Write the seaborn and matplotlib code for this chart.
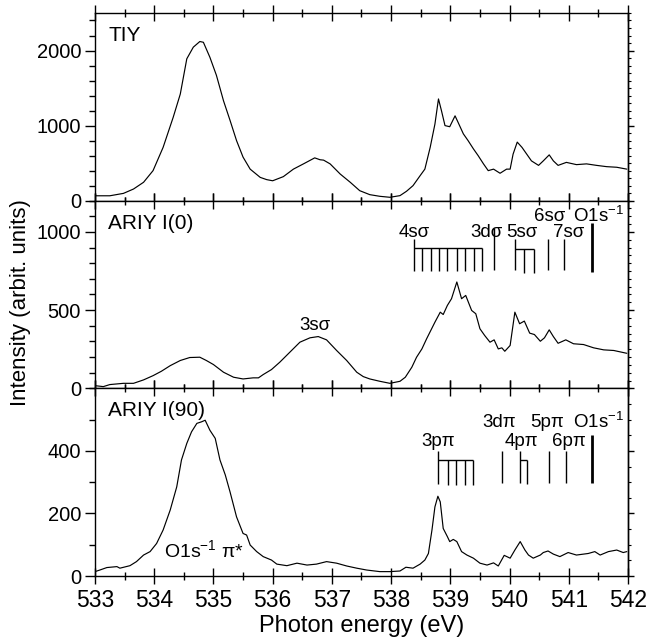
import matplotlib
matplotlib.use('Agg')
import matplotlib.pyplot as plt
from matplotlib.ticker import MultipleLocator, FixedLocator, NullFormatter
import seaborn as sns

# TIY spectrum (photon energy in eV, intensity)
tiy_energy = [533.00, 533.25, 533.48, 533.65, 533.82, 533.98, 534.15, 534.32, 534.44, 534.55,
              534.66, 534.77, 534.83, 534.94, 535.05, 535.17, 535.28, 535.39, 535.50, 535.62,
              535.79, 535.90, 536.00, 536.18, 536.35, 536.52, 536.71, 536.80, 536.86, 536.97,
              537.14, 537.31, 537.47, 537.64, 537.81, 537.98, 538.15, 538.26, 538.37, 538.49,
              538.57, 538.66, 538.74, 538.80, 538.85, 538.91, 538.99, 539.08, 539.13, 539.22,
              539.30, 539.39, 539.47, 539.56, 539.64, 539.73, 539.84, 539.95, 540.01, 540.06,
              540.13, 540.21, 540.29, 540.37, 540.49, 540.57, 540.67, 540.74, 540.82, 540.96,
              541.13, 541.30, 541.47, 541.64, 541.81, 541.98]
tiy_intensity = [65, 65, 97, 155, 245, 400, 710, 1110, 1420, 1890,
                 2045, 2120, 2110, 1910, 1670, 1330, 1070, 800, 580, 420,
                 310, 280, 265, 320, 420, 490, 570, 545, 540, 490,
                 355, 245, 133, 80, 58, 45, 67, 125, 200, 333,
                 420, 710, 1020, 1355, 1200, 1000, 985, 1130, 1045, 890,
                 800, 690, 600, 490, 400, 420, 365, 420, 420, 620,
                 780, 710, 620, 530, 470, 530, 610, 530, 470, 510,
                 480, 490, 470, 453, 445, 420]

# ARIY I(0)
ariy0_energy = [533.00, 533.14, 533.25, 533.48, 533.65, 533.82, 533.98, 534.12, 534.27, 534.44,
                534.60, 534.77, 534.88, 535.00, 535.17, 535.34, 535.50, 535.67, 535.76, 535.84,
                535.98, 536.12, 536.29, 536.46, 536.63, 536.77, 536.91, 537.08, 537.25, 537.42,
                537.53, 537.64, 537.81, 537.98, 538.15, 538.24, 538.35, 538.43, 538.52, 538.60,
                538.67, 538.74, 538.83, 538.88, 538.95, 539.02, 539.11, 539.19, 539.26, 539.36,
                539.43, 539.50, 539.58, 539.67, 539.74, 539.81, 539.87, 539.92, 540.01, 540.09,
                540.17, 540.25, 540.34, 540.42, 540.52, 540.59, 540.67, 540.74, 540.82, 540.95,
                541.08, 541.25, 541.42, 541.59, 541.76, 541.98]
ariy0_intensity = [17, 11, 24, 32, 32, 54, 81, 109, 145, 178,
                   197, 199, 178, 152, 103, 71, 60, 67, 67, 88,
                   120, 167, 231, 295, 323, 331, 310, 242, 178, 103,
                   75, 60, 45, 32, 45, 71, 135, 199, 252, 317,
                   370, 423, 487, 472, 530, 573, 680, 573, 594, 498,
                   477, 381, 338, 295, 310, 252, 259, 237, 274, 487,
                   413, 430, 353, 344, 301, 323, 374, 331, 288, 310,
                   285, 280, 259, 246, 242, 224]

# ARIY I(90)
ariy90_energy = [533.00, 533.08, 533.20, 533.37, 533.42, 533.59, 533.70, 533.82, 533.93, 534.04,
                 534.15, 534.27, 534.38, 534.46, 534.55, 534.63, 534.72, 534.80, 534.86, 534.94,
                 535.03, 535.11, 535.20, 535.28, 535.39, 535.50, 535.56, 535.62, 535.73, 535.84,
                 535.98, 536.07, 536.24, 536.41, 536.58, 536.74, 536.91, 537.08, 537.25, 537.42,
                 537.59, 537.81, 537.98, 538.15, 538.25, 538.37, 538.49, 538.57, 538.63, 538.69,
                 538.74, 538.79, 538.83, 538.88, 538.95, 538.99, 539.05, 539.11, 539.19, 539.28,
                 539.39, 539.50, 539.62, 539.73, 539.81, 539.91, 540.01, 540.09, 540.18, 540.26,
                 540.32, 540.40, 540.52, 540.57, 540.65, 540.74, 540.85, 540.99, 541.13, 541.33,
                 541.44, 541.53, 541.67, 541.81, 541.92, 541.98]
ariy90_intensity = [14, 19, 27, 30, 25, 33, 46, 67, 78, 104,
                    147, 211, 285, 371, 424, 461, 488, 493, 498, 466,
                    440, 371, 323, 269, 189, 136, 131, 99, 78, 62,
                    51, 38, 33, 41, 35, 38, 46, 41, 32, 25,
                    19, 14, 14, 16, 28, 25, 38, 51, 72, 147,
                    221, 255, 237, 152, 126, 110, 117, 110, 78, 67,
                    57, 41, 35, 42, 32, 66, 57, 83, 110, 83,
                    67, 57, 67, 75, 80, 70, 62, 75, 67, 72,
                    78, 67, 78, 83, 75, 78]

# Rydberg series markers (eV)
s4_sigma = [538.38, 538.53, 538.67, 538.81, 538.95, 539.11, 539.25, 539.40, 539.54]
d3_sigma = [539.73]
s5_sigma = [540.09, 540.25, 540.41]
s6_sigma = [540.65]
s7_sigma = [540.92]
ion_edge = [541.40]
p3_pi = [538.79, 538.96, 539.10, 539.25, 539.39]
d3_pi = [539.88]
p4_pi = [540.17, 540.30]
p5_pi = [540.66]
p6_pi = [540.95]

sns.set_style('ticks')
plt.rcParams['font.family'] = ['Liberation Sans', 'DejaVu Sans']
plt.rcParams['mathtext.fontset'] = 'custom'
plt.rcParams['mathtext.rm'] = 'Liberation Sans'
plt.rcParams['mathtext.default'] = 'regular'
plt.rcParams['axes.linewidth'] = 1.0
for key in ['text.color', 'axes.labelcolor', 'axes.edgecolor', 'xtick.color', 'ytick.color']:
    plt.rcParams[key] = 'black'

fig, axes = plt.subplots(3, 1, sharex=True, figsize=(6.49, 6.40), dpi=100,
                         gridspec_kw=dict(hspace=0))
fig.subplots_adjust(left=0.1464, right=0.9676, top=0.9797, bottom=0.10)

panels = [
    (tiy_energy, tiy_intensity, 'TIY', 2500, [0, 1000, 2000], 200),
    (ariy0_energy, ariy0_intensity, 'ARIY I(0)', 1200, [0, 500, 1000], 100),
    (ariy90_energy, ariy90_intensity, 'ARIY I(90)', 600, [0, 200, 400], 100),
]

for ax, (x, y, name, ytop, majors, minor) in zip(axes, panels):
    sns.lineplot(x=x, y=y, ax=ax, color='black', linewidth=0.85, sort=False)
    ax.set_xlim(533, 542)
    ax.set_ylim(0, ytop)
    ax.yaxis.set_major_locator(FixedLocator(majors))
    ax.yaxis.set_minor_locator(MultipleLocator(minor))
    ax.xaxis.set_major_locator(MultipleLocator(1))
    ax.xaxis.set_minor_locator(MultipleLocator(0.5))
    ax.tick_params(axis='x', which='both', direction='inout', top=True, bottom=True)
    ax.tick_params(axis='x', which='major', length=12, width=1.0, labelsize=16.5)
    ax.tick_params(axis='x', which='minor', length=6, width=1.0)
    ax.tick_params(axis='y', which='both', direction='out', left=True, right=False)
    ax.tick_params(axis='y', which='major', length=7, width=1.0, labelsize=14.5, pad=3)
    ax.tick_params(axis='y', which='minor', length=4, width=1.0)
    # short outward ticks on the right edge
    sec = ax.secondary_yaxis('right')
    sec.yaxis.set_major_locator(FixedLocator(majors))
    sec.yaxis.set_minor_locator(MultipleLocator(minor / 2))
    sec.yaxis.set_major_formatter(NullFormatter())
    sec.tick_params(which='major', direction='out', length=4, width=1.0)
    sec.tick_params(which='minor', direction='out', length=2.5, width=0.8)
    ax.set_xlabel('')
    ax.set_ylabel('')
    ax.text(0.025, 0.93, name, transform=ax.transAxes, ha='left', va='top', fontsize=15)


def series(ax, xs, top, bottom, join=None, sub_bottom=None, lw=1.0):
    ax.vlines(xs[0], bottom, top, color='black', lw=lw)
    if len(xs) > 1:
        ax.hlines(join, xs[0], xs[-1], color='black', lw=lw)
        ax.vlines(xs[1:], sub_bottom, join, color='black', lw=lw)


ax2 = axes[1]
series(ax2, s4_sigma, 958, 750, join=900, sub_bottom=750)
series(ax2, d3_sigma, 1022, 759)
series(ax2, s5_sigma, 958, 759, join=893, sub_bottom=737)
series(ax2, s6_sigma, 958, 759)
series(ax2, s7_sigma, 958, 759)
series(ax2, ion_edge, 1054, 744, lw=2.0)
ann = dict(ha='center', va='baseline', fontsize=13.5)
ax2.text(538.39, 968, '4sσ', **ann)
ax2.text(539.61, 968, '3dσ', **ann)
ax2.text(540.21, 968, '5sσ', **ann)
ax2.text(540.67, 1068, '6sσ', **ann)
ax2.text(540.99, 968, '7sσ', **ann)
ax2.text(541.50, 1064, 'O1s$^{-1}$', **ann)
ax2.text(536.71, 374, '3sσ', **ann)

ax3 = axes[2]
series(ax3, p3_pi, 399, 294, join=371, sub_bottom=291)
series(ax3, d3_pi, 399, 298)
series(ax3, p4_pi, 399, 298, join=371, sub_bottom=294)
series(ax3, p5_pi, 399, 298)
series(ax3, p6_pi, 399, 298)
series(ax3, ion_edge, 450, 296, lw=2.0)
ax3.text(538.80, 415, '3pπ', **ann)
ax3.text(539.83, 477, '3dπ', **ann)
ax3.text(540.20, 415, '4pπ', **ann)
ax3.text(540.64, 477, '5pπ', **ann)
ax3.text(541.00, 415, '6pπ', **ann)
ax3.text(541.50, 472, 'O1s$^{-1}$', **ann)
ax3.text(534.17, 62, 'O1s$^{-1}$ π*', ha='left', va='baseline', fontsize=14)

ax3.set_xlabel('Photon energy (eV)', fontsize=17, labelpad=2)
fig.text(0.031, 0.528, 'Intensity (arbit. units)', rotation=90,
         ha='center', va='center', fontsize=16)

fig.savefig('out.png', dpi=100)
